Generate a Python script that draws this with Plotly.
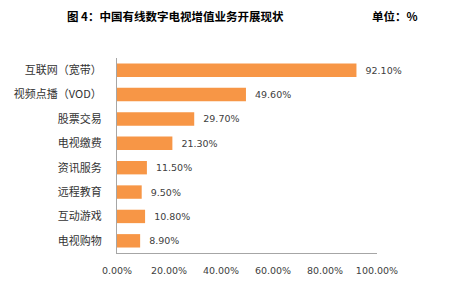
import plotly.graph_objects as go

categories = ["互联网（宽带）", "视频点播（VOD）", "股票交易", "电视缴费", "资讯服务", "远程教育", "互动游戏", "电视购物"]
values = [92.10, 49.60, 29.70, 21.30, 11.50, 9.50, 10.80, 8.90]
tick_vals = [0, 20, 40, 60, 80, 100]
tick_text = ["0.00%", "20.00%", "40.00%", "60.00%", "80.00%", "100.00%"]
title_text = "图 4：中国有线数字电视增值业务开展现状"
unit_text = "单位：%"

fig = go.Figure(go.Bar(
    x=values, y=categories, orientation="h",
    marker=dict(color="#F79646", line=dict(width=0)),
    width=0.55,
    text=["  " + f"{v:.2f}%" for v in values], textposition="outside",
    textfont=dict(family="DejaVu Sans", size=9.5, color="#404040"),
    cliponaxis=False,
))

fig.update_layout(
    width=464, height=282,
    margin=dict(l=117, r=87, t=58, b=29),
    paper_bgcolor="white", plot_bgcolor="white",
    showlegend=False,
    font=dict(family="Noto Sans CJK SC", color="#333333"),
    annotations=[
        dict(text="<b>" + title_text + "</b>", x=65, y=16, xref="paper", yref="paper",
             xanchor="left", yanchor="middle", showarrow=False,
             font=dict(size=11.5, color="#000000", family="Noto Sans CJK SC")),
        dict(text="<b>" + unit_text + "</b>", x=370, y=16, xref="paper", yref="paper",
             xanchor="left", yanchor="middle", showarrow=False,
             font=dict(size=11.5, color="#000000", family="Noto Sans CJK SC")),
    ],
)
# convert annotation pixel positions to paper coords
pw = 464 - 117 - 87
ph = 282 - 58 - 29
for a in fig.layout.annotations:
    a.x = (a.x - 117) / pw
    a.y = (282 - 29 - a.y) / ph

fig.update_xaxes(
    range=[0, 100], tickvals=tick_vals, ticktext=tick_text,
    showgrid=False, zeroline=False, automargin=False,
    showline=True, linecolor="#A6A6A6", linewidth=1,
    ticks="outside", ticklen=9, tickcolor="rgba(0,0,0,0)",
    tickfont=dict(family="DejaVu Sans", size=9.5, color="#404040"),
)
fig.update_yaxes(
    autorange="reversed", showgrid=False, zeroline=False, automargin=False,
    showline=True, linecolor="#A6A6A6", linewidth=1,
    ticks="outside", ticklen=12, tickcolor="rgba(0,0,0,0)",
    tickfont=dict(family="Noto Sans CJK SC", size=11, color="#333333"),
)

fig.write_html("out.html")
